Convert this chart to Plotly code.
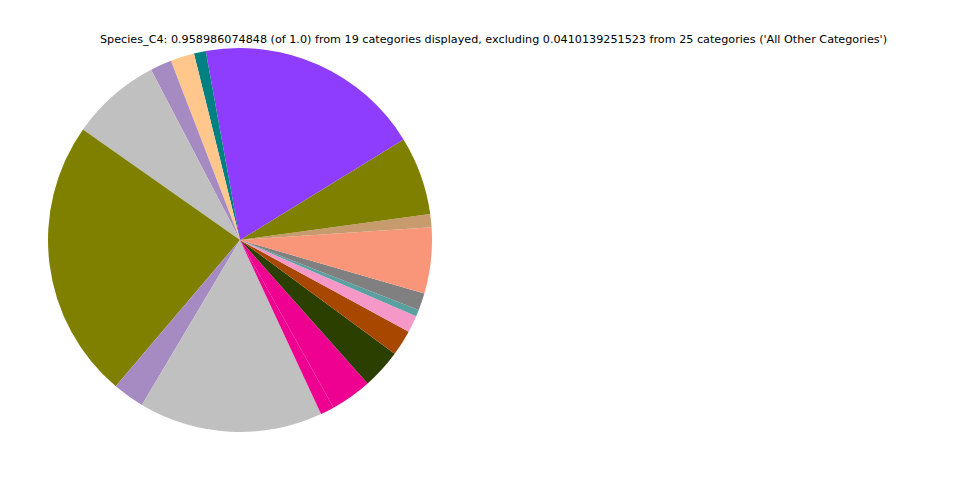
import plotly.graph_objects as go

# Relative abundance of the 19 displayed categories (fractions of 1.0),
# listed in drawing order starting at 3 o'clock, counterclockwise.
categories = [
    "Cat_01", "Cat_02", "Cat_03", "Cat_04", "Cat_05", "Cat_06", "Cat_07",
    "Cat_08", "Cat_09", "Cat_10", "Cat_11", "Cat_12", "Cat_13", "Cat_14",
    "Cat_15", "Cat_16", "Cat_17", "Cat_18", "Cat_19",
]
values = [
    0.01012, 0.01066, 0.0634, 0.1830, 0.00959, 0.0192, 0.01732,
    0.0727, 0.2259, 0.02557, 0.1484, 0.01119, 0.0333, 0.0320,
    0.0208, 0.01359, 0.00533, 0.01385, 0.0432,
]
colors = [
    "#F9967A", "#C89B6E", "#808000", "#8E3DFF", "#008080", "#FFC78C", "#A58BC2",
    "#C0C0C0", "#808000", "#A58BC2", "#C0C0C0", "#EE0090", "#EE0090", "#2B3F00",
    "#A84800", "#F598C8", "#5AA0A0", "#808080", "#F9967A",
]

title_text = ("Species_C4: 0.958986074848 (of 1.0) from 19 categories displayed, "
              "excluding 0.0410139251523 from 25 categories ('All Other Categories')")

W, H = 960, 480
cx, cy, r = 240, 240, 192

# Plotly keeps the first slice on the clockwise side of `rotation` even when
# drawing counterclockwise, so shift by its width to start exactly at 3 o'clock.
first_span = 360.0 * values[0] / sum(values)

fig = go.Figure(go.Pie(
    labels=categories,
    values=values,
    sort=False,
    direction="counterclockwise",
    rotation=90 - first_span,
    marker=dict(colors=colors, line=dict(width=0)),
    textinfo="none",
    hoverinfo="label+value",
    showlegend=False,
    domain=dict(x=[(cx - r) / W, (cx + r) / W], y=[(H - cy - r) / H, (H - cy + r) / H]),
))

fig.add_annotation(
    text=title_text, x=493 / W, y=1 - 39 / H, xref="paper", yref="paper",
    xanchor="center", yanchor="middle", showarrow=False,
    font=dict(family="DejaVu Sans", size=11.2, color="#000000"),
)

fig.update_layout(
    width=W, height=H,
    margin=dict(l=0, r=0, t=0, b=0),
    paper_bgcolor="white", plot_bgcolor="white",
)

fig.write_html("out.html")
